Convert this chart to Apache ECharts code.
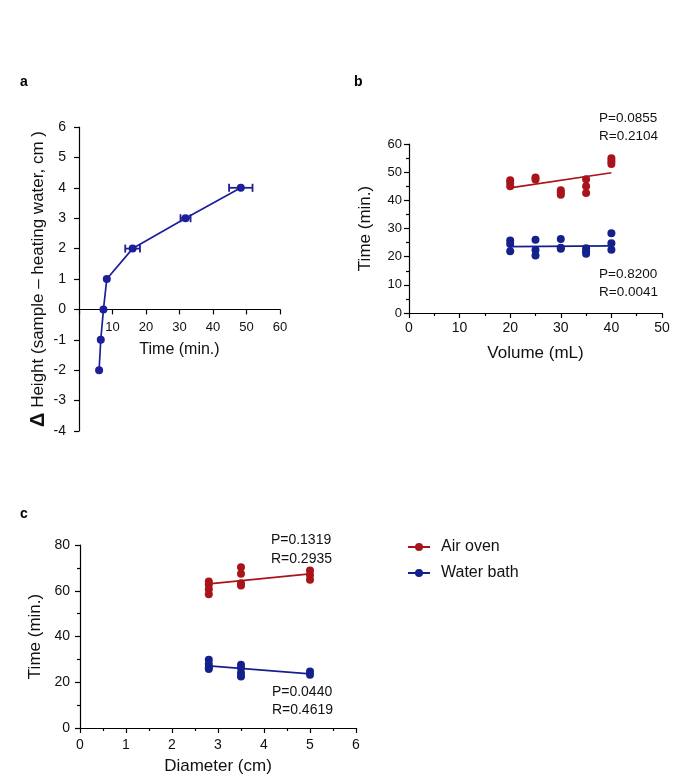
<!DOCTYPE html>
<html><head><meta charset="utf-8">
<script src="https://cdn.jsdelivr.net/npm/echarts@6/dist/echarts.min.js"></script>
<style>html,body{margin:0;padding:0;background:#fff}#c{width:685px;height:783px}</style>
</head><body><div id="c"></div>
<script>
// Panel a
const aTime = [6.0, 6.5, 7.3, 8.3, 16.0, 31.8, 48.3];
const aHeight = [-2, -1, 0, 1, 2, 3, 4];
const aTimeErr = [0, 0, 0, 0, 2.2, 1.5, 3.5];
// Panel b
const bVolAir = [20,20,20,25,25,30,30,30,35,35,35,40,40,40];
const bTimeAir = [47.1,46.2,45.0,48.1,47.4,43.6,42.8,42.0,47.5,45.0,42.6,54.9,53.9,52.9];
const bVolWater = [20,20,20,25,25,25,30,30,30,35,35,35,40,40,40];
const bTimeWater = [25.7,24.5,21.9,26.0,22.4,20.4,26.3,23.2,22.8,23.0,21.9,21.0,28.3,24.8,22.5];
const bFitX = [20, 40];
const bFitAir = [44.4, 49.8];
const bFitWater = [23.6, 23.8];
// Panel c
const cDiamAir = [2.8,2.8,2.8,2.8,3.5,3.5,3.5,3.5,5,5,5];
const cTimeAir = [64.0,62.6,60.7,58.5,70.3,67.4,63.3,62.3,68.8,66.9,64.8];
const cDiamWater = [2.8,2.8,2.8,2.8,3.5,3.5,3.5,3.5,5,5];
const cTimeWater = [29.8,28.0,26.5,25.8,27.6,26.2,24.0,22.5,24.7,23.3];
const cFitX = [2.8, 5];
const cFitAir = [63.0, 67.4];
const cFitWater = [27.2, 23.7];
const legendNames = ['Air oven', 'Water bath'];
const statsB = [['P=0.0855','R=0.2104'],['P=0.8200','R=0.0041']];
const statsC = [['P=0.1319','R=0.2935'],['P=0.0440','R=0.4619']];

const RED = '#a8141a', BLUE = '#14218c', ABLUE = '#1c1f98';
const FONT = '"Liberation Sans", Arial, sans-serif';
const TXT = '#111';
const zip = (xs, ys) => xs.map((x, i) => [x, ys[i]]);

function axisBase(extra, labelSize, labelMargin, nameSize) {
  return Object.assign({
    type: 'value',
    axisLine: { show: true, onZero: false, lineStyle: { color: '#000', width: 1.2 } },
    axisTick: { show: true, length: 5, lineStyle: { color: '#000', width: 1.2 } },
    splitLine: { show: false },
    axisLabel: { color: TXT, fontSize: labelSize, fontFamily: FONT, margin: labelMargin },
    nameTextStyle: { color: TXT, fontSize: nameSize, fontFamily: FONT },
    nameLocation: 'middle'
  }, extra);
}
const minor = { show: true, splitNumber: 2, length: 3, lineStyle: { color: '#000', width: 1.2 } };

const chart = echarts.init(document.getElementById('c'), null, { renderer: 'canvas' });

// grid a geometry (layout only)
const gA = { left: 79, top: 127, width: 201, height: 304 };
const aZeroOffset = -gA.height * 4 / 10; // move x axis of panel a up to y = 0

const xA = axisBase({ gridIndex: 0, min: 0, max: 60, interval: 10, name: 'Time (min.)', nameGap: 32, offset: aZeroOffset }, 13, 12, 16);
xA.axisLabel.formatter = v => v === 0 ? '' : v;

const option = {
  animation: false,
  textStyle: { fontFamily: FONT },
  grid: [
    Object.assign({ containLabel: false, outerBoundsMode: 'none' }, gA),
    { left: 409, top: 144, width: 253, height: 169, containLabel: false, outerBoundsMode: 'none' },
    { left: 80, top: 545, width: 276, height: 183, containLabel: false, outerBoundsMode: 'none' }
  ],
  xAxis: [
    xA,
    axisBase({ gridIndex: 1, min: 0, max: 50, interval: 10, name: 'Volume (mL)', nameGap: 32, minorTick: minor }, 14, 8, 17),
    axisBase({ gridIndex: 2, min: 0, max: 6, interval: 1, name: 'Diameter (cm)', nameGap: 30, minorTick: minor }, 14, 10, 17)
  ],
  yAxis: [
    (function () {
      const y = axisBase({ gridIndex: 0, min: -4, max: 6, interval: 1,
        name: '{d|Δ} Height (sample – heating water, cm )', nameGap: 31 }, 14, 13, 17);
      y.nameTextStyle.rich = { d: { fontSize: 20, fontWeight: 'bold', fontFamily: FONT, color: TXT } };
      return y;
    })(),
    axisBase({ gridIndex: 1, min: 0, max: 60, interval: 10, name: 'Time (min.)', nameGap: 35, minorTick: minor }, 13, 7, 17),
    axisBase({ gridIndex: 2, min: 0, max: 80, interval: 20, name: 'Time (min.)', nameGap: 36, minorTick: minor }, 14, 10, 17)
  ],
  legend: {
    orient: 'vertical', left: 407, top: 539, padding: 0, itemGap: 10,
    itemWidth: 22, itemHeight: 10,
    data: legendNames,
    textStyle: { fontSize: 16, fontFamily: FONT, color: TXT, padding: [0, 0, 0, 6] }
  },
  graphic: [
    { type: 'text', right: 685 - 658, top: 109, style: { text: statsB[0][0] + '\n' + statsB[0][1], font: '13.5px ' + FONT, fill: TXT, lineHeight: 18, align: 'right' } },
    { type: 'text', right: 685 - 658, top: 265, style: { text: statsB[1][0] + '\n' + statsB[1][1], font: '13.5px ' + FONT, fill: TXT, lineHeight: 18, align: 'right' } },
    { type: 'text', right: 685 - 332, top: 531, style: { text: statsC[0][0] + '\n' + statsC[0][1], font: '14px ' + FONT, fill: TXT, lineHeight: 19, align: 'right' } },
    { type: 'text', right: 685 - 333, top: 683, style: { text: statsC[1][0] + '\n' + statsC[1][1], font: '14px ' + FONT, fill: TXT, lineHeight: 18, align: 'right' } },
    { type: 'text', left: 20, top: 75, style: { text: 'a', font: 'bold 14px ' + FONT, fill: '#000' } },
    { type: 'text', left: 354, top: 75, style: { text: 'b', font: 'bold 14px ' + FONT, fill: '#000' } },
    { type: 'text', left: 20, top: 507, style: { text: 'c', font: 'bold 14px ' + FONT, fill: '#000' } }
  ],
  series: [
    // Panel a
    {
      type: 'custom', xAxisIndex: 0, yAxisIndex: 0, z: 3,
      data: aTime.map((t, i) => [t, aHeight[i], t - aTimeErr[i], t + aTimeErr[i]]),
      encode: { x: [0, 2, 3], y: 1 },
      renderItem: function (params, api) {
        if (api.value(2) === api.value(3)) return null;
        const p1 = api.coord([api.value(2), api.value(1)]);
        const p2 = api.coord([api.value(3), api.value(1)]);
        const cap = 4, st = { stroke: ABLUE, lineWidth: 1.8 };
        return { type: 'group', children: [
          { type: 'line', shape: { x1: p1[0], y1: p1[1], x2: p2[0], y2: p2[1] }, style: st },
          { type: 'line', shape: { x1: p1[0], y1: p1[1] - cap, x2: p1[0], y2: p1[1] + cap }, style: st },
          { type: 'line', shape: { x1: p2[0], y1: p2[1] - cap, x2: p2[0], y2: p2[1] + cap }, style: st }
        ] };
      }
    },
    {
      type: 'line', xAxisIndex: 0, yAxisIndex: 0, data: zip(aTime, aHeight), z: 4,
      symbol: 'circle', symbolSize: 8, lineStyle: { color: ABLUE, width: 1.7 }, itemStyle: { color: ABLUE }
    },
    // Panel b
    { type: 'line', xAxisIndex: 1, yAxisIndex: 1, data: zip(bFitX, bFitAir), showSymbol: false, symbol: 'none', lineStyle: { color: RED, width: 1.7 }, z: 2 },
    { type: 'line', xAxisIndex: 1, yAxisIndex: 1, data: zip(bFitX, bFitWater), showSymbol: false, symbol: 'none', lineStyle: { color: BLUE, width: 1.7 }, z: 2 },
    { type: 'scatter', xAxisIndex: 1, yAxisIndex: 1, data: zip(bVolAir, bTimeAir), symbolSize: 8, itemStyle: { color: RED, opacity: 1 }, z: 3 },
    { type: 'scatter', xAxisIndex: 1, yAxisIndex: 1, data: zip(bVolWater, bTimeWater), symbolSize: 8, itemStyle: { color: BLUE, opacity: 1 }, z: 3 },
    // Panel c
    { name: legendNames[0], type: 'line', xAxisIndex: 2, yAxisIndex: 2, data: zip(cFitX, cFitAir), showSymbol: false, symbol: 'circle', symbolSize: 8, lineStyle: { color: RED, width: 1.7 }, itemStyle: { color: RED }, z: 2 },
    { name: legendNames[1], type: 'line', xAxisIndex: 2, yAxisIndex: 2, data: zip(cFitX, cFitWater), showSymbol: false, symbol: 'circle', symbolSize: 8, lineStyle: { color: BLUE, width: 1.7 }, itemStyle: { color: BLUE }, z: 2 },
    { type: 'scatter', xAxisIndex: 2, yAxisIndex: 2, data: zip(cDiamAir, cTimeAir), symbolSize: 8, itemStyle: { color: RED, opacity: 1 }, z: 3 },
    { type: 'scatter', xAxisIndex: 2, yAxisIndex: 2, data: zip(cDiamWater, cTimeWater), symbolSize: 8, itemStyle: { color: BLUE, opacity: 1 }, z: 3 }
  ]
};
chart.setOption(option);
</script>
</body></html>
